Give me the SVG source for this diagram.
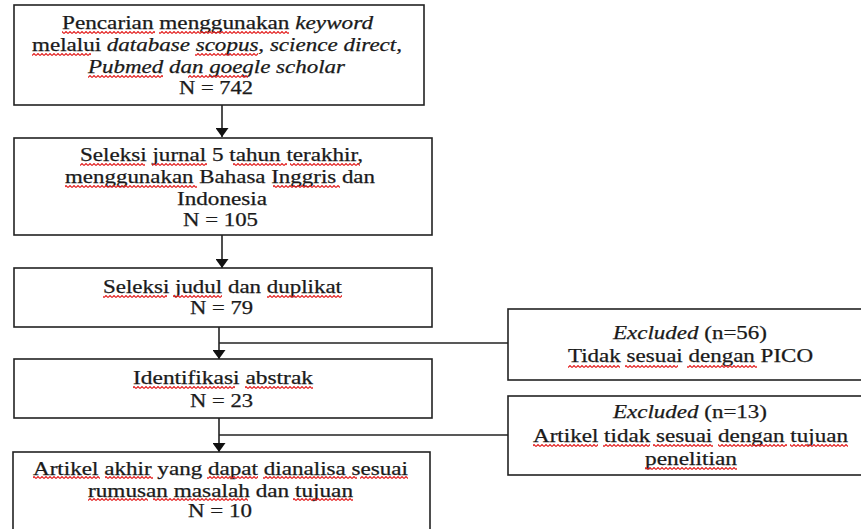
<svg xmlns="http://www.w3.org/2000/svg" width="861" height="529" viewBox="0 0 861 529">
<defs>
<style>
.box{fill:#fff;stroke:#222;stroke-width:1.6}
.t{font-family:"Liberation Serif","Times New Roman",serif;font-size:18px;fill:#1a1a1a;stroke:#1a1a1a;stroke-width:0.25;text-anchor:middle}
.i{font-style:italic}
.n{font-style:normal}
.ln{stroke:#222;stroke-width:1.6;fill:none}
.sq{fill:url(#zz)}
</style>
<pattern id="zz" x="0" y="0" width="4" height="3" patternUnits="userSpaceOnUse">
<path d="M0,2.5 L2,0.5 L4,2.5" fill="none" stroke="#e3201f" stroke-width="1.1"/>
</pattern>
<marker id="ah" viewBox="0 0 9 13" refX="9" refY="6.5" markerWidth="9" markerHeight="13" markerUnits="userSpaceOnUse" orient="auto">
<path d="M0,0 L9,6.5 L0,13 Z" fill="#111"/>
</marker>
</defs>
<rect width="861" height="529" fill="#fff"/>
<g id="connectors">
<line class="ln" x1="222" y1="105" x2="222" y2="137" marker-end="url(#ah)"/>
<line class="ln" x1="222" y1="235" x2="222" y2="268" marker-end="url(#ah)"/>
<line class="ln" x1="219" y1="327" x2="219" y2="359" marker-end="url(#ah)"/>
<line class="ln" x1="219" y1="343" x2="508" y2="343"/>
<line class="ln" x1="219" y1="418" x2="219" y2="452" marker-end="url(#ah)"/>
<line class="ln" x1="219" y1="435" x2="508" y2="435"/>
</g>
<g id="n1">
<rect class="box" x="14" y="5" width="410" height="100"/>
<text class="t" x="217.5" y="29" textLength="311" lengthAdjust="spacingAndGlyphs">Pencarian menggunakan <tspan class="i">keyword</tspan></text>
<text class="t i" x="217" y="51" textLength="370" lengthAdjust="spacingAndGlyphs"><tspan class="n">melalui</tspan> database scopus, science direct,</text>
<text class="t i" x="216.5" y="73" textLength="257" lengthAdjust="spacingAndGlyphs">Pubmed dan goegle scholar</text>
<text class="t" x="216" y="94" textLength="74" lengthAdjust="spacingAndGlyphs">N = 742</text>
</g>
<g id="n2">
<rect class="box" x="14" y="138" width="418" height="97"/>
<text class="t" x="221.5" y="161" textLength="283" lengthAdjust="spacingAndGlyphs">Seleksi jurnal 5 tahun terakhir,</text>
<text class="t" x="220" y="183" textLength="310" lengthAdjust="spacingAndGlyphs">menggunakan Bahasa Inggris dan</text>
<text class="t" x="222" y="205" textLength="90" lengthAdjust="spacingAndGlyphs">Indonesia</text>
<text class="t" x="220.5" y="226" textLength="75" lengthAdjust="spacingAndGlyphs">N = 105</text>
</g>
<g id="n3">
<rect class="box" x="14" y="268" width="418" height="59"/>
<text class="t" x="222.5" y="293" textLength="239" lengthAdjust="spacingAndGlyphs">Seleksi judul dan duplikat</text>
<text class="t" x="221.5" y="314" textLength="63" lengthAdjust="spacingAndGlyphs">N = 79</text>
</g>
<g id="n4">
<rect class="box" x="14" y="359" width="418" height="59"/>
<text class="t" x="223" y="384" textLength="180" lengthAdjust="spacingAndGlyphs">Identifikasi abstrak</text>
<text class="t" x="221.5" y="407" textLength="63" lengthAdjust="spacingAndGlyphs">N = 23</text>
</g>
<g id="n5">
<rect class="box" x="13" y="452" width="417" height="90"/>
<text class="t" x="220.5" y="475" textLength="375" lengthAdjust="spacingAndGlyphs">Artikel akhir yang dapat dianalisa sesuai</text>
<text class="t" x="220.5" y="497" textLength="265" lengthAdjust="spacingAndGlyphs">rumusan masalah dan tujuan</text>
<text class="t" x="220" y="517" textLength="64" lengthAdjust="spacingAndGlyphs">N = 10</text>
</g>
<g id="e1">
<rect class="box" x="508" y="309" width="360" height="71"/>
<text class="t" x="690" y="339" textLength="154" lengthAdjust="spacingAndGlyphs"><tspan class="i">Excluded</tspan> (n=56)</text>
<text class="t" x="690.5" y="362" textLength="245" lengthAdjust="spacingAndGlyphs">Tidak sesuai dengan PICO</text>
</g>
<g id="e2">
<rect class="box" x="508" y="396" width="360" height="79"/>
<text class="t" x="690" y="418" textLength="154" lengthAdjust="spacingAndGlyphs"><tspan class="i">Excluded</tspan> (n=13)</text>
<text class="t" x="690.5" y="442" textLength="315" lengthAdjust="spacingAndGlyphs">Artikel tidak sesuai dengan tujuan</text>
<text class="t" x="691" y="465" textLength="92" lengthAdjust="spacingAndGlyphs">penelitian</text>
</g>
<g id="spellcheck">
<g transform="translate(0,31)"><rect class="sq" x="62" width="93" height="3"/><rect class="sq" x="159" width="130" height="3"/></g>
<g transform="translate(0,53)"><rect class="sq" x="32" width="59" height="3"/><rect class="sq" x="195" width="63" height="3"/></g>
<g transform="translate(0,75)"><rect class="sq" x="88" width="75" height="3"/><rect class="sq" x="188" width="60" height="3"/></g>
<g transform="translate(0,163)"><rect class="sq" x="80" width="65" height="3"/><rect class="sq" x="152" width="55" height="3"/><rect class="sq" x="233" width="54" height="3"/><rect class="sq" x="290" width="70" height="3"/></g>
<g transform="translate(0,185)"><rect class="sq" x="65" width="132" height="3"/><rect class="sq" x="273" width="67" height="3"/></g>
<g transform="translate(0,295)"><rect class="sq" x="103" width="64" height="3"/><rect class="sq" x="173" width="49" height="3"/><rect class="sq" x="267" width="75" height="3"/></g>
<g transform="translate(0,386)"><rect class="sq" x="133" width="102" height="3"/><rect class="sq" x="245" width="68" height="3"/></g>
<g transform="translate(0,476)"><rect class="sq" x="33" width="67" height="3"/><rect class="sq" x="105" width="48" height="3"/><rect class="sq" x="207" width="51" height="3"/><rect class="sq" x="263" width="94" height="3"/><rect class="sq" x="360" width="48" height="3"/></g>
<g transform="translate(0,498)"><rect class="sq" x="88" width="60" height="3"/><rect class="sq" x="153" width="95" height="3"/><rect class="sq" x="293" width="60" height="3"/></g>
<g transform="translate(0,365)"><rect class="sq" x="568" width="52" height="3"/><rect class="sq" x="625" width="53" height="3"/><rect class="sq" x="687" width="70" height="3"/></g>
<g transform="translate(0,444)"><rect class="sq" x="533" width="65" height="3"/><rect class="sq" x="603" width="47" height="3"/><rect class="sq" x="653" width="60" height="3"/><rect class="sq" x="718" width="69" height="3"/><rect class="sq" x="790" width="58" height="3"/></g>
<g transform="translate(0,467)"><rect class="sq" x="645" width="92" height="3"/></g>
</g>
</svg>
